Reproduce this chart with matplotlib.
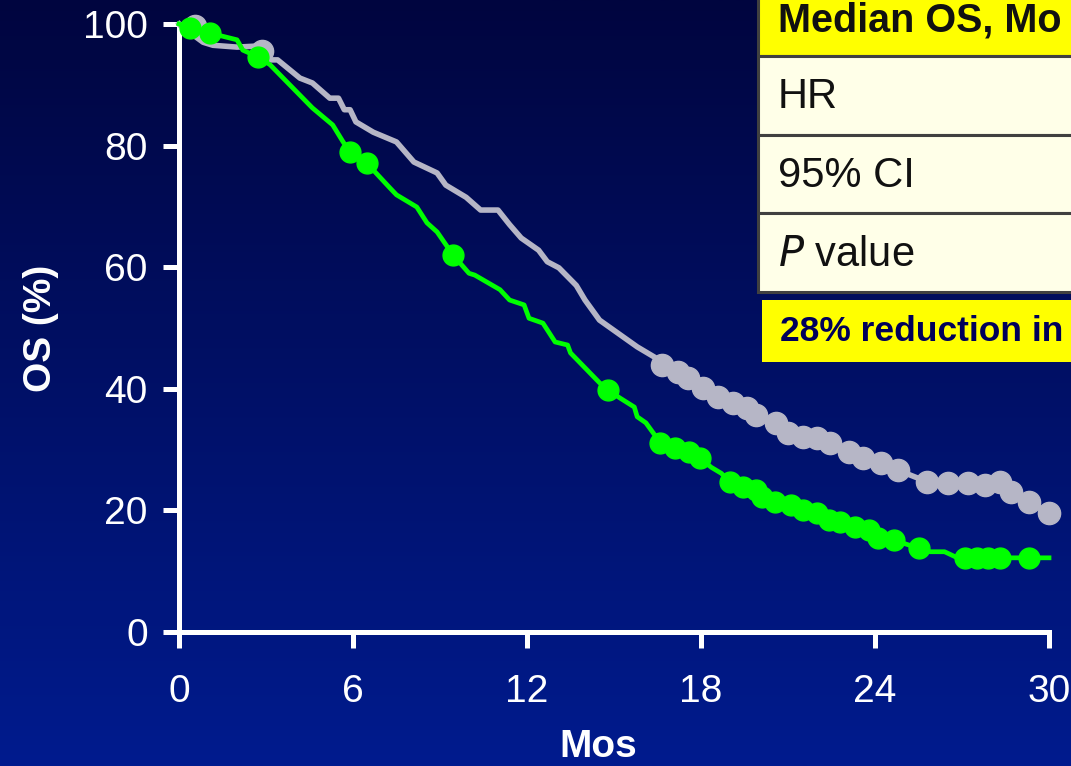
import numpy as np
import matplotlib
matplotlib.use("Agg")
import matplotlib.pyplot as plt
from matplotlib.patches import Rectangle

plt.rcParams['font.family'] = ['Liberation Sans', 'DejaVu Sans']

# Control arm (gray) curve, months / OS %
gray_x = [0.0, 0.03, 0.83, 1.17, 2.0, 2.8, 3.07, 3.14, 3.4, 4.17, 4.6, 5.2, 5.5, 5.7, 5.9, 6.1,
          6.7, 7.5, 8.1, 8.9, 9.2, 9.9, 10.4, 11.0, 11.4, 11.8, 12.4, 12.7, 13.1, 13.7, 14.0,
          14.5, 15.8, 16.4, 16.66, 17.2, 17.55, 18.07, 18.6, 19.1, 19.6, 19.9, 20.6, 21.0,
          21.5, 22.0, 22.45, 23.1, 23.6, 24.2, 24.8, 25.8, 26.5, 27.2, 27.8, 28.3, 28.7,
          29.3, 30.0]
gray_y = [100, 99.8, 97.0, 96.5, 96.2, 96.4, 95.2, 94.1, 94.1, 91.1, 90.3, 87.8, 87.8, 85.9, 85.9,
          83.9, 82.2, 80.6, 77.3, 75.5, 73.5, 71.5, 69.4, 69.4, 67.0, 64.8, 62.8, 60.9, 59.9,
          57.0, 54.6, 51.3, 46.9, 45.2, 43.9, 42.8, 41.8, 40.1, 38.7, 37.7, 36.8, 35.7, 34.4,
          32.7, 32.1, 31.9, 31.1, 29.6, 28.6, 27.8, 26.6, 24.7, 24.5, 24.5, 24.2, 24.7, 23.0,
          21.4, 19.6]
gray_cens_x = [0.55, 2.86, 16.66, 17.2, 17.55, 18.07, 18.6, 19.1, 19.6, 19.9, 20.6, 21.0, 21.5,
               22.0, 22.45, 23.1, 23.6, 24.2, 24.8, 25.8, 26.5, 27.2, 27.8, 28.3, 28.7, 29.3, 30.0]
gray_cens_y = [99.6, 95.5, 43.9, 42.8, 41.8, 40.1, 38.7, 37.7, 36.8, 35.7, 34.4, 32.7, 32.1,
               31.9, 31.1, 29.6, 28.6, 27.8, 26.6, 24.7, 24.5, 24.5, 24.2, 24.7, 23.0, 21.4, 19.6]

# Treatment arm (green) curve
green_x = [0.0, 0.38, 1.07, 2.0, 2.2, 2.72, 3.14, 4.6, 5.3, 5.66, 5.9, 6.48, 7.28, 7.5, 8.2, 8.55,
           8.9, 9.45, 10.0, 10.2, 11.07, 11.4, 11.9, 12.07, 12.55, 12.97, 13.4, 13.5, 14.5, 14.8,
           15.2, 15.7, 15.8, 16.1, 16.45, 16.6, 17.1, 17.6, 17.97, 18.35, 18.7, 19.0, 19.45, 19.9,
           20.1, 20.55, 21.1, 21.5, 22.0, 22.4, 22.8, 23.3, 23.8, 24.1, 24.65, 25.5, 25.9, 26.4,
           26.8, 27.1, 27.5, 27.9, 28.3, 29.3, 30.0]
green_y = [100, 99.3, 98.5, 97.4, 95.7, 94.6, 93.3, 86.2, 83.4, 80.6, 78.9, 77.1, 73.0, 71.9, 69.9,
           67.3, 65.8, 62.0, 59.0, 58.7, 56.3, 54.6, 53.8, 51.6, 50.8, 47.7, 47.2, 45.9, 41.0, 39.8,
           38.5, 37.0, 35.4, 34.4, 32.1, 31.1, 30.3, 29.6, 28.6, 27.1, 26.1, 24.7, 23.8, 23.4,
           22.2, 21.4, 20.9, 20.1, 19.6, 18.4, 18.1, 17.3, 16.8, 15.5, 15.1, 13.8, 13.2, 13.2,
           12.3, 12.2, 12.2, 12.2, 12.2, 12.2, 12.2]
green_cens_x = [0.38, 1.07, 2.72, 5.9, 6.48, 9.45, 14.8, 16.6, 17.1, 17.6, 17.97, 19.0, 19.45, 19.9,
                20.1, 20.55, 21.1, 21.5, 22.0, 22.4, 22.8, 23.3, 23.8, 24.1, 24.65, 25.5, 27.1,
                27.5, 27.9, 28.3, 29.3]
green_cens_y = [99.3, 98.5, 94.6, 78.9, 77.1, 62.0, 39.8, 31.1, 30.3, 29.6, 28.6, 24.7, 23.8, 23.4,
                22.2, 21.4, 20.9, 20.1, 19.6, 18.4, 18.1, 17.3, 16.8, 15.5, 15.1, 13.8, 12.2,
                12.2, 12.2, 12.2, 12.2]

x_ticks = [0, 6, 12, 18, 24, 30]
y_ticks = [0, 20, 40, 60, 80, 100]
table_rows = ["HR", "95% CI", "$\\mathit{P}$ value"]

W, H = 1071, 766
fig = plt.figure(figsize=(W / 100, H / 100), dpi=100)

# gradient background
bg = fig.add_axes([0, 0, 1, 1], zorder=-10)
top = np.array([0, 5, 63]) / 255
bot = np.array([0, 27, 142]) / 255
t = np.linspace(0, 1, 256)[:, None]
grad = top[None, :] * (1 - t) + bot[None, :] * t
bg.imshow(grad[:, None, :], aspect='auto', extent=[0, 1, 0, 1])
bg.axis('off')

ax = fig.add_axes([179 / W, 1 - 632 / H, (1049 - 179) / W, (632 - 24) / H])
ax.patch.set_alpha(0)

ax.plot(gray_x, gray_y, color='#b6b6c6', lw=4.0, zorder=3, clip_on=False, solid_joinstyle='round')
ax.plot(gray_cens_x, gray_cens_y, 'o', color='#b6b6c6', ms=16, zorder=3, clip_on=False)
ax.plot(green_x, green_y, color='#00ff00', lw=3.4, zorder=4, clip_on=False, solid_joinstyle='round')
ax.plot(green_cens_x, green_cens_y, 'o', color='#00ff00', ms=15, zorder=4, clip_on=False)

ax.set_xlim(0, 30)
ax.set_ylim(0, 100)
for s in ['top', 'right']:
    ax.spines[s].set_visible(False)
for s in ['left', 'bottom']:
    ax.spines[s].set_color('white')
    ax.spines[s].set_linewidth(3.6)
ax.set_xticks(x_ticks)
ax.set_yticks(y_ticks)
ax.tick_params(axis='both', colors='white', labelsize=28, length=11.5, width=3.6, direction='out')
ax.tick_params(axis='x', pad=19)
ax.tick_params(axis='y', pad=11)
ax.set_xlabel("Mos", color='white', fontsize=28, fontweight='bold')
ax.xaxis.set_label_coords((598 - 179) / 870, -(729 - 632) / 608)
ax.set_ylabel("OS (%)", color='white', fontsize=28, fontweight='bold', labelpad=17)


def px(x, y):
    return x / W, 1 - y / H


def rect(x0, y0, x1, y1, fc, ec='none', lw=0):
    fx, fy = px(x0, y1)
    fig.add_artist(Rectangle((fx, fy), (x1 - x0) / W, (y1 - y0) / H, transform=fig.transFigure,
                             facecolor=fc, edgecolor=ec, linewidth=lw, zorder=5))


# table
rect(758, -5, 1100, 56, '#ffff00', '#404040', 2.2)
row_edges = [56, 135, 213, 292]
for i, label in enumerate(table_rows):
    rect(758, row_edges[i], 1100, row_edges[i + 1], '#ffffe8', '#404040', 2.2)
    fig.text(*px(778, (row_edges[i] + row_edges[i + 1]) / 2 + 2), label, fontsize=30,
             color='#111111', va='center', ha='left', zorder=6)
fig.text(*px(778, 20), "Median OS, Mo", fontsize=28.5, fontweight='bold', color='#111111',
         va='center', ha='left', zorder=6)

rect(762, 300, 1100, 362, '#ffff00')
fig.text(*px(780, 332), "28% reduction in", fontsize=25.5, fontweight='bold',
         color='#00005a', va='center', ha='left', zorder=6)

fig.savefig("out.png", dpi=100)
